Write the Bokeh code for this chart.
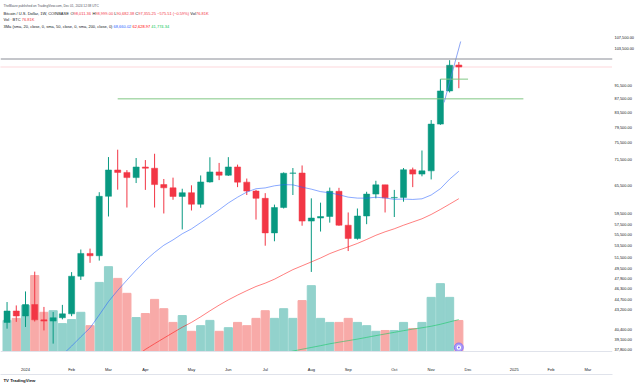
import math
from bokeh.plotting import figure
from bokeh.models import (Range1d, LinearAxis, LinearScale, FixedTicker, Title,
                          NumeralTickFormatter, Label, Span, BoxAnnotation,
                          ColumnDataSource)
from bokeh.embed import file_html
from bokeh.resources import INLINE

# ---------------- data (weekly BTC/USD, COINBASE) ----------------
first_week_index = -2          # 0 = week of 2024-01-01
opens = [41370, 42990, 42280, 43930, 41730, 41560, 42030, 42580, 48300, 52130,
         51730, 63130, 68950, 68390, 67210, 69640, 69360, 65660, 64950, 63100,
         63900, 61480, 66240, 68500, 67750, 69650, 66200, 64250, 62700, 55850,
         60800, 68200, 68250, 58100, 58700, 59000, 64200, 57300, 54800, 59100,
         63600, 65600, 62800, 62900, 69000, 68000, 68750, 80400, 89850, 98011.36]
highs = [44300, 43800, 45900, 49050, 43580, 42840, 43880, 48970, 52820, 52980,
         64000, 72000, 73800, 68920, 71770, 71280, 72800, 66900, 67200, 64750,
         65500, 67700, 71950, 70600, 71980, 70200, 67000, 64500, 63800, 61400,
         68400, 69400, 70000, 62700, 61800, 65000, 64950, 59800, 60600, 64100,
         66500, 65600, 64500, 69400, 69500, 73600, 81500, 93480, 99600, 98999.00]
lows = [40520, 41450, 40750, 41500, 40280, 38540, 41800, 42250, 47700, 50520,
        50900, 59000, 64550, 60800, 66000, 64500, 60800, 59600, 62400, 56500,
        60200, 60750, 66100, 66650, 67600, 65100, 63400, 58400, 53500, 54300,
        60600, 63400, 57200, 49000, 56100, 57800, 57200, 52550, 54600, 57500,
        62700, 59800, 58900, 62000, 65100, 67500, 66800, 80200, 89400, 90682.38]
closes = [42990, 42280, 43930, 41730, 41560, 42030, 42580, 48300, 52130, 51730,
          63130, 68950, 68390, 67210, 69640, 69360, 65660, 64950, 63100, 63900,
          61480, 66240, 68500, 67750, 69650, 66200, 64250, 62700, 55850, 60800,
          68200, 68250, 58100, 58700, 59000, 64200, 57300, 54800, 59100, 63600,
          65600, 62800, 62900, 69000, 68000, 68750, 80400, 89850, 97930, 97355.25]
volumes_k = [77, 82, 114, 188, 97, 101, 69, 79, 97, 64, 171, 210, 181, 144, 84,
             94, 129, 106, 72, 89, 50, 64, 77, 50, 59, 72, 64, 82, 101, 82, 106,
             82, 126, 163, 82, 72, 72, 82, 72, 64, 50, 52, 52, 72, 57, 72, 134,
             168, 134, 76.81]

sma20_start = 3
sma20 = [36320, 37120, 38220, 39430, 40620, 42420, 44370, 46060, 47670, 49300,
         50900, 52310, 53580, 54550, 55680, 56600, 57800, 59030, 60330, 61730,
         62940, 64030, 64750, 64930, 65390, 65640, 65600, 65090, 64660, 64130,
         63870, 63460, 62950, 62750, 62730, 62940, 62770, 62490, 62550, 62470,
         62600, 63400, 64760, 66860, 68660.02]
sma50_start = 11
sma50 = [36180, 36960, 37800, 38530, 39250, 39980, 40710, 41380, 42160, 43010,
         43840, 44620, 45340, 46020, 46670, 47190, 47820, 48600, 49380, 50020,
         50670, 51340, 52100, 52720, 53290, 53910, 54630, 55400, 56050, 56620,
         57300, 57920, 58550, 59400, 60410, 61500, 62628.97]
sma200_start = 27
sma200 = [37016, 37302, 37586, 37819, 38047, 38273, 38519, 38728, 38922, 39126,
          39352, 39584, 39804, 40022, 40248, 40456, 40639, 40850, 41119, 41447,
          41774.34]

month_ticks = [0, 5, 9, 13, 18, 22, 26, 31, 35, 40, 44, 48, 53, 57, 61]
month_labels = ["2024", "Feb", "Mar", "Apr", "May", "Jun", "Jul", "Aug", "Sep",
                "Oct", "Nov", "Dec", "2025", "Feb", "Mar"]
price_ticks = [107500, 103500, 91500, 87500, 83500, 79500, 75500, 71500, 65500,
               59500, 57500, 55500, 53500, 51500, 49500, 47900, 46300, 44700,
               43200, 40400, 39100, 37800]

round_level = 100000
last_price = 97355.25
countdown = "11:21:20"
hline_level, hline_from, hline_to = 87500, 10, 54
hline2_level, hline2_from, hline2_to = 93480, 45, 48
trend_x = [45.4, 47.2]
trend_y = [86440, 106040]

title_text = "TheBlaize published on TradingView.com, Dec 01, 2024 12:38 UTC"

# ---------------- layout helpers ----------------
W, H = 640, 384
FRAME_TOP, PANE_BOTTOM, FRAME_BOTTOM, FRAME_RIGHT = 9, 351, 363, 612
BAR_PX, X0_PX = 9.22, 25.0
PPU, Y100K = 298.5, 58.5
VOL_PX_PER_K = 0.404
FONT = "Liberation Sans"

def px_to_price(y):
    return 100000 * math.exp((Y100K - y) / PPU)

x_start = (0 - X0_PX) / BAR_PX
x_end = (FRAME_RIGHT - X0_PX) / BAR_PX

AW = {' ': 278, '/': 278, '.': 278, ',': 278, ':': 278, '(': 333, ')': 333,
      '%': 889, '−': 584, '·': 278, 'B': 667, 'i': 222, 't': 278, 'c': 500,
      'o': 556, 'n': 556, 'U': 722, 'S': 667, 'D': 722, 'l': 222, 'a': 556,
      'r': 333, 'W': 944, 'C': 722, 'O': 778, 'I': 278, 'N': 722, 'A': 667,
      'E': 667, 'H': 722, 'L': 556, 'V': 667, 'K': 667, 'T': 611, 'M': 833,
      's': 500, 'm': 833, 'e': 556, 'h': 556, 'z': 500, 'p': 556, 'u': 556,
      'b': 556, 'd': 556, 'g': 556, 'v': 500, 'w': 722}

def tw(s, size):
    return sum(AW.get(ch, 556) for ch in s) * size / 1000.0

# ---------------- figure ----------------
p = figure(width=W, height=H, output_backend="svg", toolbar_location=None,
           y_axis_type="log", y_axis_location="right",
           x_range=Range1d(x_start, x_end),
           y_range=Range1d(px_to_price(FRAME_BOTTOM), px_to_price(FRAME_TOP)),
           min_border_left=0, min_border_top=FRAME_TOP,
           min_border_right=W - FRAME_RIGHT,
           min_border_bottom=H - FRAME_BOTTOM)
p.background_fill_color = "white"
p.border_fill_color = "white"
p.outline_line_color = None
p.xgrid.visible = False
p.ygrid.visible = False
vol_bottom = -(FRAME_BOTTOM - PANE_BOTTOM) / VOL_PX_PER_K
vol_top = (PANE_BOTTOM - FRAME_TOP) / VOL_PX_PER_K
p.extra_y_ranges = {"vol": Range1d(vol_bottom, vol_top)}
p.extra_y_scales = {"vol": LinearScale()}

# snapshot header (title) above the chart
p.title.text = title_text
p.title.align = "left"
p.title.offset = 3
p.title.standoff = 3
p.title.text_font = FONT
p.title.text_font_size = "3.2px"
p.title.text_font_style = "normal"
p.title.text_color = "#50535e"

# axes
ya = p.yaxis[0]
ya.ticker = FixedTicker(ticks=price_ticks)
ya.formatter = NumeralTickFormatter(format="0,0.00")
ya.axis_line_color = None
ya.major_tick_line_color = None
ya.minor_tick_line_color = None
ya.major_tick_out = 0
ya.major_label_standoff = 2
ya.major_label_text_font = FONT
ya.major_label_text_font_size = "3.9px"
ya.major_label_text_color = "#131722"

xa = p.xaxis[0]
xa.ticker = FixedTicker(ticks=month_ticks)
xa.major_label_overrides = {t: s for t, s in zip(month_ticks, month_labels)}
xa.axis_line_color = None
xa.major_tick_line_color = None
xa.minor_tick_line_color = None
xa.major_tick_out = 0
xa.major_label_standoff = 3
xa.major_label_text_font = FONT
xa.major_label_text_font_size = "4px"
xa.major_label_text_color = "#131722"

ax2 = LinearAxis(ticker=FixedTicker(ticks=[]), axis_line_color="#e0e3eb",
                 major_tick_line_color=None, minor_tick_line_color=None,
                 major_tick_out=0, major_label_text_font_size="0px",
                 major_label_standoff=0)
p.add_layout(ax2, "below")

logo = Title(text="TV  TradingView", align="left", offset=3, standoff=3,
             text_font=FONT, text_font_size="4.3px", text_font_style="bold",
             text_color="#131722")
p.add_layout(logo, "below")

# ---------------- series ----------------
n = len(opens)
idx = [first_week_index + i for i in range(n)]
up = [c >= o for o, c in zip(opens, closes)]
src = ColumnDataSource(dict(
    x=idx, o=opens, h=highs, l=lows, c=closes,
    top=[max(o, c) for o, c in zip(opens, closes)],
    bot=[min(o, c) for o, c in zip(opens, closes)],
    col=["#089981" if u else "#f23645" for u in up],
    vcol=["#92d2cc" if u else "#f8aaa8" for u in up],
    vol=volumes_k))

p.vbar(x="x", width=0.88, top="vol", bottom=0, color="vcol", source=src,
       y_range_name="vol")
p.segment(x0="x", y0="l", x1="x", y1="h", line_color="col", line_width=1,
          source=src)
p.vbar(x="x", width=0.66, top="top", bottom="bot", fill_color="col",
       line_color="col", line_width=0.5, source=src)

p.line([sma20_start + i for i in range(len(sma20))], sma20,
       line_color="#2962ff", line_alpha=0.55, line_width=1)
p.line([sma50_start + i for i in range(len(sma50))], sma50,
       line_color="#ff0000", line_alpha=0.5, line_width=1)
p.line([sma200_start + i for i in range(len(sma200))], sma200,
       line_color="#00c853", line_alpha=0.5, line_width=1)

# drawings
p.add_layout(Span(location=round_level, dimension="width",
                  line_color="#8a8d96", line_width=1))
p.add_layout(Span(location=last_price, dimension="width", line_color="#f23645",
                  line_alpha=0.4, line_width=1, line_dash="1 1"))
p.segment(x0=[hline_from], y0=[hline_level], x1=[hline_to], y1=[hline_level],
          line_color="#81c784", line_width=1)
p.segment(x0=[hline2_from], y0=[hline2_level], x1=[hline2_to], y1=[hline2_level],
          line_color="#81c784", line_width=1)
p.line(trend_x, trend_y, line_color="#5b7ff0", line_alpha=0.7, line_width=1)

# event marker
p.scatter([idx[-1]], [10], y_range_name="vol", size=9, fill_color="#a99cf5",
          line_color="#7b61ff", line_width=0.7)
p.scatter([idx[-1]], [10], y_range_name="vol", size=4.5, fill_color="white",
          line_color=None)
p.scatter([idx[-1]], [10], y_range_name="vol", size=2, fill_color="#7b61ff",
          line_color=None)

# small empty pane under the price pane
p.add_layout(BoxAnnotation(bottom=px_to_price(FRAME_BOTTOM),
                           top=px_to_price(PANE_BOTTOM + 0.5),
                           fill_color="white", fill_alpha=1.0, line_color=None))
p.add_layout(Span(location=px_to_price(PANE_BOTTOM), dimension="width",
                  line_color="#e0e3eb", line_width=1))

# ---------------- texts ----------------
def lab(x, y, text, color, size, xu="screen", yu="screen", align="left",
        bg=None, pad=0, yr=None, bold=False):
    kw = dict(x=x, y=y, x_units=xu, y_units=yu, text=text, text_color=color,
              text_font=FONT, text_font_size=f"{size}px", text_align=align,
              text_baseline="middle")
    if bg is not None:
        kw.update(background_fill_color=bg, padding=pad)
    if yr is not None:
        kw["y_range_name"] = yr
    if bold:
        kw["text_font_style"] = "bold"
    p.add_layout(Label(**kw))

def sy(page_y):
    return FRAME_BOTTOM - page_y

def run(x, page_y, parts, size):
    for text, color in parts:
        if text.startswith(" "):
            x += tw(" ", size)
            text = text[1:]
        lab(x, sy(page_y), text, color, size)
        x += tw(text, size)

DARK, RED = "#131722", "#f23645"
run(3, 12.5, [("Bitcoin / U.S. Dollar, 1W, COINBASE", DARK),
              (" O", DARK), ("98,011.36", RED), (" H", DARK), ("98,999.00", RED),
              (" L", DARK), ("90,682.38", RED), (" C", DARK), ("97,355.25", RED),
              (" −575.51", RED), (" (−0.59%)", RED), (" Vol", DARK),
              ("76.81K", RED)], 4)
run(3, 19, [("Vol · BTC", DARK), (" 76.81K", RED)], 4)
run(3, 26, [("3Ma (sma, 20, close, 0, sma, 50, close, 0, sma, 200, close, 0)", DARK),
            (" 68,660.02", "#2962ff"), (" 62,628.97", "#ff0000"),
            (" 41,774.34", "#00c853")], 4)

# price-scale boxes
BX = FRAME_RIGHT + 2
lab(BX, round_level, "100,000.00", "white", 3.9, yu="data", bg="#131722", pad=1)
lab(BX, px_to_price(65.6), "97,355.25", "white", 3.9, yu="data", bg="#f23645", pad=1)
lab(BX, px_to_price(70.0), countdown, "white", 3.9, yu="data", bg="#f23645", pad=1)
lab(BX, sma20[-1], "68,660.02", "white", 3.9, yu="data", bg="#2962ff", pad=1)
lab(BX, sma50[-1], "62,628.97", "white", 3.9, yu="data", bg="#ff0000", pad=1)
lab(BX, sma200[-1], "41,774.34", "#131722", 3.9, yu="data", bg="#00e000", pad=1)
lab(BX, volumes_k[-1], "76.81K", "white", 3.9, yu="data", bg="#f77c80", pad=1,
    yr="vol")
lab(634, sy(357), "0.00", DARK, 3.9, align="right")

open("out.html", "w").write(file_html(p, INLINE))
